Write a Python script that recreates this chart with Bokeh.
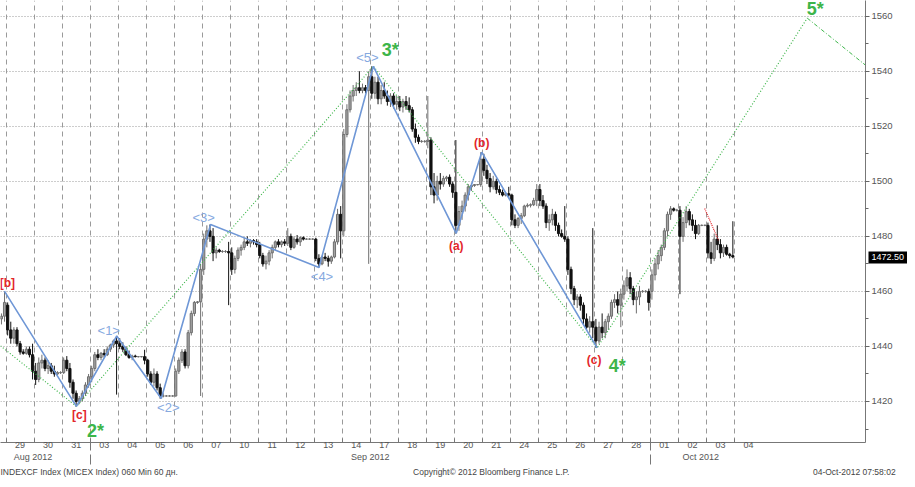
from bokeh.plotting import figure
from bokeh.models import Range1d, FixedTicker, ColumnDataSource, LinearAxis
from bokeh.core.properties import value
from bokeh.embed import file_html
from bokeh.resources import INLINE

# ---------------------------------------------------------------- data
# trading days on the axis (index 0 = 29 Aug 2012)
day_labels = ["29", "30", "31", "03", "04", "05", "06", "07", "10", "11", "12", "13", "14",
              "17", "18", "19", "20", "21", "24", "25", "26", "27", "28", "01", "02", "03", "04"]
month_names = ["Aug 2012", "Sep 2012", "Oct 2012"]
month_first_day = [0, 3, 23]

# hourly bars: day index and hour slot (0..8) of each bar
bar_day = [-1, -1] + [d for d in range(26) for _ in range(9)]
bar_slot = [7, 8] + [s for _ in range(26) for s in range(9)]

open_ = [
    1450, 1451,
    1455, 1446, 1443, 1446, 1441, 1438, 1437.5, 1439, 1437,
    1431, 1428, 1434, 1435, 1432, 1433, 1431, 1430, 1430.5,
    1430.5, 1435, 1432, 1427, 1423, 1420, 1421, 1423, 1426,
    1429, 1432, 1437, 1436, 1437.5, 1437, 1439, 1440.5, 1442,
    1441, 1440, 1439, 1437, 1436, 1436.5, 1436.3, 1436.3, 1436.3,
    1435, 1430, 1427, 1430, 1425, 1422, 1422, 1422, 1422,
    1422, 1431, 1435, 1438, 1433, 1445, 1452, 1456, 1456.2,
    1468, 1479, 1482, 1480, 1474, 1475, 1474.5, 1474.5, 1474.5,
    1474, 1468, 1472, 1475, 1476, 1478, 1477.5, 1478.5, 1478,
    1477, 1473, 1470, 1471, 1474, 1476, 1478, 1477, 1478,
    1477.5, 1480, 1476, 1479, 1478, 1479.5, 1479, 1479, 1479,
    1479, 1472, 1470, 1472.5, 1472, 1471, 1472.5, 1478, 1488,
    1482, 1517, 1526, 1531, 1533, 1534, 1533, 1534, 1533,
    1538, 1532, 1536, 1530, 1533, 1531, 1529, 1531, 1528,
    1529, 1527, 1529, 1527.5, 1526, 1519, 1516, 1514.5, 1514.5,
    1514.5, 1515, 1498, 1495, 1500, 1499, 1501, 1501.5, 1499,
    1496, 1484, 1489, 1491, 1495, 1498, 1498.5, 1498.8, 1498.8,
    1508, 1504, 1501, 1498, 1500, 1497, 1496, 1495, 1495.5,
    1495, 1486, 1484, 1486.5, 1487.5, 1491, 1491.3, 1491.5, 1493,
    1497, 1493, 1491, 1485, 1486, 1488, 1484, 1481, 1480,
    1479, 1468, 1461, 1457, 1458, 1455, 1450, 1447, 1449,
    1447, 1442, 1447, 1445, 1449, 1451, 1456, 1457, 1455,
    1459, 1462, 1465, 1461, 1457, 1458, 1460, 1460, 1460,
    1460, 1466, 1470, 1473, 1476, 1482, 1488, 1490, 1489.5,
    1489.5, 1480, 1485, 1489, 1486, 1484, 1481, 1484, 1484,
    1484, 1474, 1472, 1479, 1477, 1474, 1476, 1473.5, 1473,
]
high = [
    1452, 1460,
    1456, 1449, 1447, 1447, 1442, 1439, 1440, 1440, 1441,
    1434, 1436, 1437, 1436, 1435, 1434, 1433, 1431, 1431,
    1436, 1436.5, 1434, 1428, 1424, 1422, 1424, 1427, 1430,
    1433, 1438, 1439, 1438, 1439, 1440, 1441, 1442.5, 1443.8,
    1443, 1441.5, 1440, 1438.5, 1437, 1437, 1436.5, 1436.5, 1438.8,
    1435.5, 1431, 1432, 1431, 1426.5, 1423, 1422.3, 1422.3, 1422.3,
    1432, 1436, 1439, 1439, 1446, 1453, 1456.5, 1456.5, 1470,
    1481, 1484, 1484.3, 1483, 1476, 1475.5, 1475, 1475, 1478,
    1476, 1473, 1476, 1477, 1479.5, 1480, 1479, 1479, 1479,
    1478, 1474, 1473, 1475, 1477, 1478.5, 1479, 1478.5, 1479,
    1483, 1481, 1480, 1480.5, 1480, 1480, 1479.3, 1479.3, 1479.3,
    1479.5, 1473.5, 1473, 1474, 1473, 1473, 1479, 1490, 1491,
    1519, 1528, 1533, 1535, 1536, 1540, 1535.5, 1535, 1540,
    1541.8, 1538, 1538, 1535, 1536, 1533, 1532, 1532, 1531,
    1531, 1530, 1531, 1530.5, 1527, 1521, 1517, 1515, 1515,
    1531, 1516, 1503, 1502, 1503, 1502, 1502, 1502.5, 1500,
    1515, 1491, 1493, 1496, 1499, 1499.5, 1499, 1499, 1510.6,
    1510, 1506, 1503, 1502, 1501, 1498.5, 1497, 1496, 1498,
    1495.5, 1488, 1487, 1488.5, 1491.5, 1492, 1492, 1494, 1499,
    1499, 1495, 1492, 1488, 1490, 1489, 1485, 1482.5, 1491,
    1480, 1469, 1462, 1459, 1459, 1456, 1452, 1451, 1483,
    1450, 1449, 1452, 1450, 1452, 1457, 1459, 1460, 1461,
    1464, 1468, 1467, 1462, 1460, 1462, 1460.5, 1460.5, 1461,
    1468, 1472, 1475, 1477, 1483, 1489, 1491, 1490.5, 1490,
    1491, 1487, 1491, 1490, 1488, 1486, 1484.5, 1484.3, 1484.3,
    1485, 1478, 1481, 1484, 1479, 1477, 1477, 1474, 1485.5,
]
low = [
    1448, 1449,
    1444, 1441, 1441, 1440, 1437, 1437, 1437, 1436, 1428,
    1426, 1427, 1432, 1431, 1430, 1430, 1429, 1429.5, 1430,
    1430, 1431, 1425, 1421, 1418.2, 1419, 1420, 1422, 1425,
    1427, 1431, 1435, 1435, 1436, 1436.5, 1438, 1439.5, 1422.5,
    1439, 1438, 1436.5, 1435.5, 1435, 1436, 1436, 1436, 1433.5,
    1429, 1426, 1425.5, 1424, 1421, 1421.5, 1421.8, 1421.8, 1421.8,
    1421.8, 1430, 1434, 1432, 1432, 1444, 1451, 1455.5, 1422,
    1466, 1476, 1478, 1471, 1472, 1474, 1474, 1474, 1455,
    1466, 1466.5, 1471, 1473, 1475, 1476.5, 1476, 1477, 1476,
    1472, 1469, 1468, 1469.5, 1472, 1475, 1476, 1476, 1476.5,
    1476.5, 1475, 1475.5, 1477, 1476.5, 1478.5, 1478.8, 1478.8, 1478.8,
    1471, 1468.7, 1469.5, 1471, 1469, 1470, 1472, 1477, 1472,
    1480, 1516, 1525, 1529, 1531, 1532, 1532, 1532, 1470,
    1530, 1530, 1528, 1528, 1530, 1527.5, 1527, 1526.5, 1526,
    1525.5, 1525, 1526, 1525, 1518, 1514, 1513.5, 1514, 1514,
    1512, 1495, 1492, 1493, 1497, 1498, 1500, 1498, 1494,
    1481, 1482, 1486, 1489, 1493, 1496.5, 1498, 1498.5, 1498,
    1502, 1499, 1496, 1497, 1495.5, 1495, 1494.5, 1494.5, 1494,
    1484, 1483, 1483, 1484.5, 1487, 1490.5, 1490.5, 1491, 1491,
    1491, 1490, 1483, 1482, 1484, 1482, 1480, 1479.5, 1478,
    1466, 1459, 1455, 1454, 1453, 1448, 1446, 1445, 1443,
    1439.5, 1441, 1443, 1443, 1446, 1450, 1454, 1452, 1447,
    1457, 1460, 1459, 1455, 1452, 1455, 1459.5, 1459.5, 1453,
    1457, 1464, 1468, 1471, 1475, 1480, 1486, 1489, 1489,
    1459, 1478, 1483, 1484, 1482, 1479, 1480.5, 1483.7, 1483.7,
    1472, 1470, 1471, 1475, 1472, 1472.5, 1473, 1472, 1472,
]
close = [
    1451, 1456,
    1446, 1443, 1446, 1441, 1438, 1437.5, 1439, 1437, 1431,
    1428, 1434, 1435, 1432, 1433, 1431, 1430, 1430.5, 1430.5,
    1435, 1432, 1427, 1423, 1420, 1421, 1423, 1426, 1429,
    1432, 1437, 1436, 1437.5, 1437, 1439, 1440.5, 1442, 1441,
    1440, 1439, 1437, 1436, 1436.5, 1436.3, 1436.3, 1436.3, 1435,
    1430, 1427, 1430, 1425, 1422, 1422, 1422, 1422, 1422,
    1431, 1435, 1438, 1433, 1445, 1452, 1456, 1456.2, 1468,
    1479, 1482, 1480, 1474, 1475, 1474.5, 1474.5, 1474.5, 1474,
    1468, 1472, 1475, 1476, 1478, 1477.5, 1478.5, 1478, 1477,
    1473, 1470, 1471, 1474, 1476, 1478, 1477, 1478, 1477.5,
    1480, 1476, 1479, 1478, 1479.5, 1479, 1479, 1479, 1479,
    1472, 1470, 1472.5, 1472, 1471, 1472.5, 1478, 1488, 1482,
    1517, 1526, 1531, 1533, 1534, 1533, 1534, 1533, 1538,
    1532, 1536, 1530, 1533, 1531, 1529, 1531, 1528, 1529,
    1527, 1529, 1527.5, 1526, 1519, 1516, 1514.5, 1514.5, 1514.5,
    1515, 1498, 1495, 1500, 1499, 1501, 1501.5, 1499, 1496,
    1484, 1489, 1491, 1495, 1498, 1498.5, 1498.8, 1498.8, 1508,
    1504, 1501, 1498, 1500, 1497, 1496, 1495, 1495.5, 1495,
    1486, 1484, 1486.5, 1487.5, 1491, 1491.3, 1491.5, 1493, 1497,
    1493, 1491, 1485, 1486, 1488, 1484, 1481, 1480, 1479,
    1468, 1461, 1457, 1458, 1455, 1450, 1447, 1449, 1447,
    1442, 1447, 1445, 1449, 1451, 1456, 1457, 1455, 1459,
    1462, 1465, 1461, 1457, 1458, 1460, 1460, 1460, 1456,
    1466, 1470, 1473, 1476, 1482, 1488, 1490, 1489.5, 1489.5,
    1480, 1485, 1489, 1486, 1484, 1481, 1484, 1484, 1484,
    1474, 1472, 1479, 1477, 1474, 1476, 1473.5, 1473, 1472.5,
]
last_price = 1472.50

# Elliott wave marks (time in trading-day units, price)
minor_wave = ["[b]", "[c]", "<1>", "<2>", "<3>", "<4>", "<5>", "(a)", "(b)", "(c)"]
minor_t = [-0.56, 2.01, 3.45, 5.04, 6.80, 10.67, 12.61, 15.57, 16.48, 20.60]
minor_p = [1460.1, 1418.2, 1443.8, 1421.1, 1484.3, 1468.7, 1541.8, 1481.1, 1510.6, 1439.5]
major_wave = ["2*", "3*", "4*", "5*"]
major_t = [2.01, 12.61, 20.60, 28.10]
major_p = [1418.2, 1541.8, 1439.5, 1559.3]
major_entry_t, major_entry_p = -0.70, 1440.2
projection_t = [28.10, 30.18]
projection_p = [1559.3, 1542.2]
sub_t = [24.44, 24.93]
sub_p = [1490.1, 1478.6]

y_ticks = [1420, 1440, 1460, 1480, 1500, 1520, 1540, 1560]
y_minor = [1410, 1420, 1430, 1440, 1450, 1460, 1470, 1480, 1490, 1500, 1510, 1520, 1530, 1540, 1550, 1560]

footer_texts = ["INDEXCF Index (MICEX Index) 060 Min 60 дн.",
                "Copyright\u00a9 2012 Bloomberg Finance L.P.",
                "04-Oct-2012 07:58:02"]

# ---------------------------------------------------------------- style / layout
FONT = "Liberation Sans"
W, H = 907, 479
RB, BB = 38, 34
RED, GREEN, BLUE = "#e3262b", "#3db54a", "#6f97d6"
SLOTS = 9
GREY = "#555555"

p = figure(width=W, height=H, x_range=Range1d(-0.70, 30.18), y_range=Range1d(1405.1, 1565.7),
           output_backend="svg", toolbar_location=None, y_axis_location="right",
           min_border_left=0, min_border_top=0, min_border_right=RB, min_border_bottom=BB)
p.outline_line_color = None
p.background_fill_color = "white"
p.border_fill_color = "white"

boundaries = [d - 0.5 for d in range(len(day_labels))]
separators = [d - 0.5 for d in month_first_day[1:]]

# grids
p.xgrid.ticker = FixedTicker(ticks=boundaries)
p.xgrid.grid_line_color = "#9a9a9a"
p.xgrid.grid_line_dash = "5 4"
p.ygrid.ticker = FixedTicker(ticks=y_ticks)
p.ygrid.grid_line_color = "#9a9a9a"
p.ygrid.grid_line_dash = "1 2"

def style_axis(ax, size):
    ax.major_label_text_font = FONT
    ax.major_label_text_font_size = size
    ax.major_label_text_color = GREY
    ax.major_tick_line_color = None
    ax.major_tick_out = 0
    ax.major_tick_in = 0

# x axis: days
xa = p.xaxis[0]
xa.ticker = FixedTicker(ticks=list(range(len(day_labels))), minor_ticks=boundaries)
xa.major_label_overrides = {i: lab for i, lab in enumerate(day_labels)}
style_axis(xa, "9px")
xa.minor_tick_in = 4
xa.minor_tick_out = 0
xa.minor_tick_line_color = "#777777"
xa.axis_line_color = "#777777"
xa.major_label_standoff = -1

# month row (its minor ticks draw the upper part of the month separators)
month_label_t = [0.46, 12.5, 24.3]
ma = LinearAxis(ticker=FixedTicker(ticks=month_label_t, minor_ticks=separators),
                major_label_overrides=dict(zip(month_label_t, month_names)))
style_axis(ma, "9px")
ma.axis_line_color = None
ma.minor_tick_in = 11
ma.minor_tick_out = 0
ma.minor_tick_line_color = "#777777"
ma.major_label_standoff = 1
p.add_layout(ma, "below")

# footer row (its minor ticks continue the separators through the month row)
footer_t = [2.45, 16.82, 29.78]
fa = LinearAxis(ticker=FixedTicker(ticks=footer_t, minor_ticks=separators),
                major_label_overrides=dict(zip(footer_t, footer_texts)))
style_axis(fa, "8.5px")
fa.major_label_text_color = "#444444"
fa.axis_line_color = None
fa.minor_tick_in = 10
fa.minor_tick_out = 0
fa.minor_tick_line_color = "#777777"
fa.major_label_standoff = 2
p.add_layout(fa, "below")

# y axis (right)
ya = p.yaxis[0]
ya.ticker = FixedTicker(ticks=y_ticks, minor_ticks=y_minor)
ya.major_tick_out = 4
ya.major_tick_in = 0
ya.minor_tick_out = 3
ya.minor_tick_in = 0
ya.major_tick_line_color = "#666666"
ya.minor_tick_line_color = "#666666"
ya.axis_line_color = "#777777"
ya.major_label_text_font = FONT
ya.major_label_text_font_size = "9.5px"
ya.major_label_text_color = GREY
ya.major_label_standoff = 2

# last-price tag: a second right axis whose single thick tick is the black box
ta = LinearAxis(ticker=FixedTicker(ticks=[last_price]),
                major_label_overrides={last_price: f"{last_price:.2f}"})
ta.axis_line_color = None
ta.minor_tick_line_color = None
ta.major_tick_line_color = "black"
ta.major_tick_line_width = 12
ta.major_tick_line_cap = "butt"
ta.major_tick_in = 27
ta.major_tick_out = 12
ta.major_label_standoff = -36
ta.major_label_text_font = FONT
ta.major_label_text_font_size = "9px"
ta.major_label_text_color = "white"
p.add_layout(ta, "right")

# candles
xs = [d - 0.5 + (s + 0.5) / SLOTS for d, s in zip(bar_day, bar_slot)]
up = [c >= o for o, c in zip(open_, close)]
src = ColumnDataSource(dict(
    x=xs, o=open_, h=high, l=low, c=close,
    top=[max(o, c) for o, c in zip(open_, close)],
    bot=[min(o, c) for o, c in zip(open_, close)],
    body=["#a3a3a3" if u else "#111111" for u in up],
    edge=["#6e6e6e" if u else "#111111" for u in up],
))
p.segment(x0="x", y0="l", x1="x", y1="h", source=src, line_color="edge", line_width=1)
p.vbar(x="x", width=0.7 / SLOTS, top="top", bottom="bot", source=src,
       fill_color="body", line_color="edge", line_width=1)

# wave lines
p.line([major_entry_t] + major_t, [major_entry_p] + major_p, line_color=GREEN,
       line_width=1.2, line_dash="1 2")
p.line(projection_t, projection_p, line_color=GREEN, line_width=1, line_dash="4 2 1 2")
p.line(minor_t, minor_p, line_color=BLUE, line_width=1.6)
p.line(sub_t, sub_p, line_color=RED, line_width=1.2, line_dash="1 1")

# wave labels (offsets in screen pixels)
minor_off = {"[b]": (3, -8), "[c]": (3, 9), "<1>": (-8, -5), "<2>": (7, 9), "<3>": (-7, -7),
             "<4>": (3, 9), "<5>": (-6, -9), "(a)": (0, 13), "(b)": (0, -9), "(c)": (-3, 12)}
major_off = {"2*": (19, 25), "3*": (17, -16), "4*": (20, 18), "5*": (8, -9)}

red_idx = [i for i, w in enumerate(minor_wave) if w[0] in "[("]
blue_idx = [i for i, w in enumerate(minor_wave) if w[0] == "<"]

def wave_src(idx, names, ts, ps, offs):
    return ColumnDataSource(dict(
        x=[ts[i] for i in idx], y=[ps[i] for i in idx], t=[names[i] for i in idx],
        dx=[offs[names[i]][0] for i in idx], dy=[offs[names[i]][1] for i in idx]))

p.text(x="x", y="y", text="t", x_offset="dx", y_offset="dy",
       source=wave_src(red_idx, minor_wave, minor_t, minor_p, minor_off),
       text_color=RED, text_font=value(FONT), text_font_style="bold",
       text_font_size="12px", text_align="center", text_baseline="middle")
p.text(x="x", y="y", text="t", x_offset="dx", y_offset="dy",
       source=wave_src(blue_idx, minor_wave, minor_t, minor_p, minor_off),
       text_color="#86a9df", text_font=value(FONT),
       text_font_size="13px", text_align="center", text_baseline="middle")
p.text(x="x", y="y", text="t", x_offset="dx", y_offset="dy",
       source=wave_src(list(range(len(major_wave))), major_wave, major_t, major_p, major_off),
       text_color=GREEN, text_font=value(FONT), text_font_style="bold",
       text_font_size="18px", text_align="center", text_baseline="middle")

open("out.html", "w").write(file_html(p, INLINE))
